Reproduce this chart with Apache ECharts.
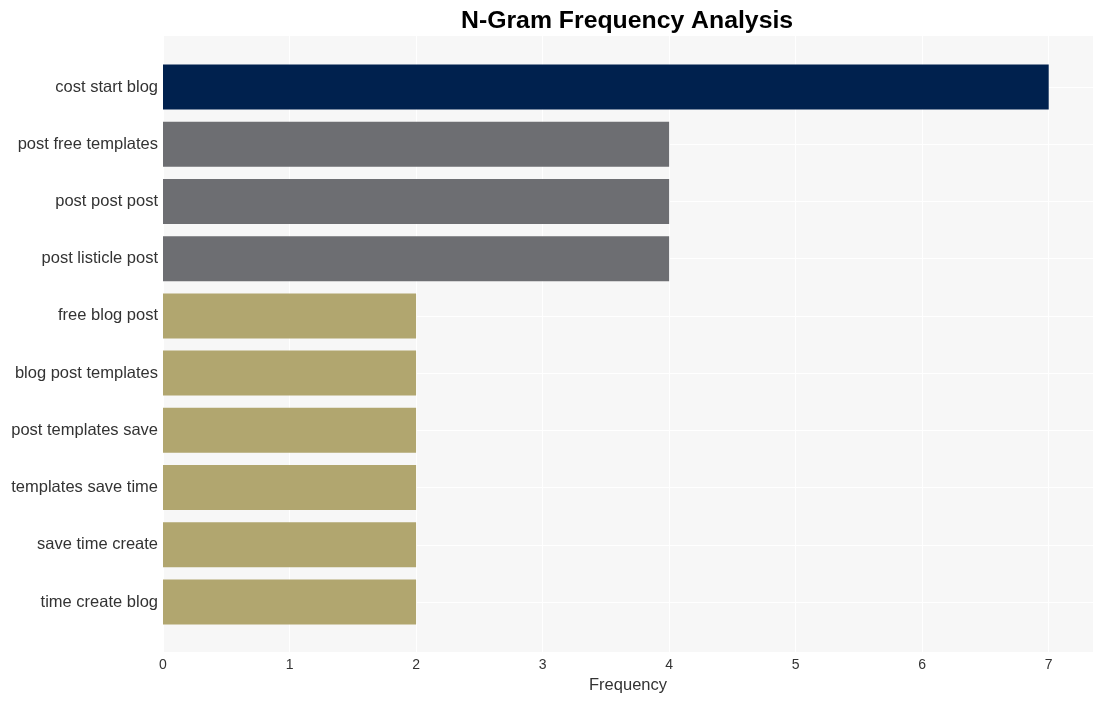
<!DOCTYPE html>
<html><head><meta charset="utf-8">
<script src="https://cdn.jsdelivr.net/npm/echarts@6/dist/echarts.min.js"></script>
<style>html,body{margin:0;padding:0;background:#fff}#c{width:1102px;height:701px}</style>
</head><body><div id="c"></div>
<script>
const categories = ["cost start blog","post free templates","post post post","post listicle post","free blog post","blog post templates","post templates save","templates save time","save time create","time create blog"];
const values = [7,4,4,4,2,2,2,2,2,2];
const barColors = ["#00214e","#6d6e72","#6d6e72","#6d6e72","#b1a66f","#b1a66f","#b1a66f","#b1a66f","#b1a66f","#b1a66f"];
const xTicks = [0,1,2,3,4,5,6,7];
const titleText = "N-Gram Frequency Analysis";
const xName = "Frequency";

const font = "'Liberation Sans', Arial, sans-serif";
const chart = echarts.init(document.getElementById('c'), null, {renderer:'canvas'});
chart.setOption({
  animation:false,
  title:{text:titleText,left:456,top:4,textStyle:{fontFamily:font,fontSize:24.8,fontWeight:'bold',color:'#000'}},
  grid:[
    {left:163,right:9,top:36,bottom:49,show:true,backgroundColor:'#f7f7f7',borderWidth:0,containLabel:false},
    {left:163,right:9,top:87,bottom:99,show:false,containLabel:false}
  ],
  xAxis:[
    {gridIndex:0,type:'value',min:0,max:7.35,interval:1,
     axisLine:{show:false},axisTick:{show:false},
     axisLabel:{fontFamily:font,fontSize:14,color:'#333',margin:6,
       formatter:function(v){return xTicks.indexOf(v)>=0?String(v):'';},showMaxLabel:false},
     splitLine:{show:true,lineStyle:{color:'#ffffff',width:1}},
     name:xName,nameLocation:'middle',nameGap:24,nameTextStyle:{fontFamily:font,fontSize:16.5,color:'#333'}},
    {gridIndex:1,type:'value',min:0,max:7.35,interval:1,show:false,splitLine:{show:false}}
  ],
  yAxis:[
    {gridIndex:0,type:'value',show:false,splitLine:{show:false}},
    {gridIndex:1,type:'category',data:categories,inverse:true,boundaryGap:false,
     axisLine:{show:false},axisTick:{show:false},
     axisLabel:{fontFamily:font,fontSize:16.5,color:'#333',margin:5,padding:[5,0,0,0]},
     splitLine:{show:true,lineStyle:{color:'#ffffff',width:1}}}
  ],
  series:[{
    type:'bar',xAxisIndex:1,yAxisIndex:1,barWidth:45,
    data:values.map((v,i)=>({value:v,itemStyle:{color:barColors[i]}}))
  }]
});
</script></body></html>
